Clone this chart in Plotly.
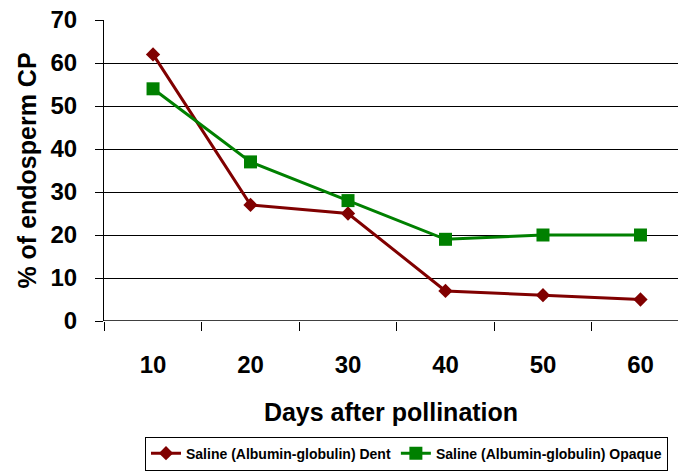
import plotly.graph_objects as go

# Days after pollination and the share of endosperm crude protein (%)
days = [10, 20, 30, 40, 50, 60]
day_labels = ["10", "20", "30", "40", "50", "60"]
slot_edges = [5, 15, 25, 35, 45, 55]
dent = [62, 27, 25, 7, 6, 5]
opaque = [54, 37, 28, 19, 20, 20]

fig = go.Figure()

fig.add_trace(go.Scatter(
    x=days, y=dent,
    name="Saline (Albumin-globulin) Dent",
    mode="lines+markers",
    line=dict(color="#800000", width=3),
    marker=dict(symbol="diamond", size=11, color="#800000"),
))
fig.add_trace(go.Scatter(
    x=days, y=opaque,
    name="Saline (Albumin-globulin) Opaque",
    mode="lines+markers",
    line=dict(color="#008000", width=3),
    marker=dict(symbol="square", size=13, color="#008000"),
))

font_family = "Liberation Sans, Arial, sans-serif"

fig.update_layout(
    width=678, height=472,
    margin=dict(l=104, r=0, t=20, b=151),
    paper_bgcolor="white", plot_bgcolor="white",
    font=dict(family=font_family, color="black"),
    showlegend=True,
    legend=dict(
        orientation="h",
        x=(145 - 104) / 574, y=-0.497, xanchor="left", yanchor="bottom",
        bordercolor="black", borderwidth=1,
        font=dict(size=14, family=font_family, weight="bold"),
        tracegroupgap=0,
    ),
    # labels centred in each day slot, tick marks on the slot boundaries
    xaxis=dict(
        range=[4.97, 63.85],
        tickvals=days,
        ticktext=day_labels,
        ticks="",
        showgrid=False, zeroline=False,
        showline=False,
        tickfont=dict(size=24, weight="bold"),
        ticklabelstandoff=27,
        minor=dict(
            tickvals=slot_edges,
            ticks="outside", ticklen=9, tickcolor="black", tickwidth=1,
            showgrid=False,
        ),
        title=dict(text="Days after pollination",
                   font=dict(size=25, weight="bold"), standoff=26),
        automargin=False,
        fixedrange=True,
    ),
    yaxis=dict(
        range=[0, 70], dtick=10,
        showgrid=True, gridcolor="black", gridwidth=1,
        zeroline=False,
        showline=True, linecolor="black", linewidth=1,
        ticks="outside", ticklen=8, tickcolor="black",
        tickfont=dict(size=24, weight="bold"),
        ticklabelstandoff=13,
        title=dict(text="% of endosperm CP",
                   font=dict(size=25, weight="bold"), standoff=6),
        automargin=False,
        fixedrange=True,
    ),
)

# bottom axis line drawn across the plot area
fig.add_shape(type="line", xref="paper", yref="y", x0=0, x1=1, y0=0, y1=0,
              line=dict(color="black", width=1.5), layer="below")

fig.write_html("out.html")
